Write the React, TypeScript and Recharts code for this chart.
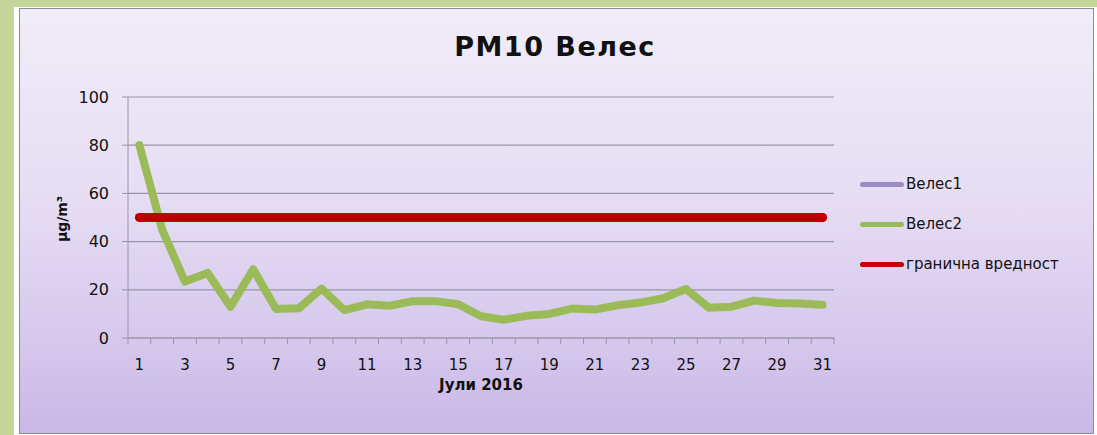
import {
  CartesianGrid,
  Line,
  LineChart,
  XAxis,
  YAxis,
} from "recharts";

const days = [
  1, 2, 3, 4, 5, 6, 7, 8, 9, 10, 11, 12, 13, 14, 15, 16, 17, 18, 19, 20, 21,
  22, 23, 24, 25, 26, 27, 28, 29, 30, 31,
];

/** Велес2 daily PM10, µg/m³. */
const veles2 = [
  80, 45, 23.4, 27, 13, 28.5, 12, 12.3, 20.5, 11.6, 14, 13.4, 15.3, 15.3, 14,
  9, 7.6, 9.2, 10, 12.2, 11.8, 13.6, 14.7, 16.5, 20.3, 12.6, 13, 15.5, 14.5,
  14.3, 13.8,
];

/** Велес1 has no measurements this month. */
const veles1: (number | null)[] = [];

const limit = [
  50, 50, 50, 50, 50, 50, 50, 50, 50, 50, 50, 50, 50, 50, 50, 50, 50, 50, 50,
  50, 50, 50, 50, 50, 50, 50, 50, 50, 50, 50, 50,
];

const yTicks = [0, 20, 40, 60, 80, 100];

const series = [
  { key: "veles1", name: "Велес1", color: "#9b8cc3", width: 6 },
  { key: "veles2", name: "Велес2", color: "#9bbb59", width: 8 },
  { key: "limit", name: "гранична вредност", color: "#c00000", width: 9 },
];

const FONT = "'DejaVu Sans', sans-serif";
const AXIS = "#9a94a8";
const PLOT_W = 706;
const BAND = PLOT_W / days.length;

const chartData = days.map((day, i) => ({
  day,
  veles1: veles1[i] ?? null,
  veles2: veles2[i],
  limit: limit[i],
}));

function DayTick(props: any) {
  const { x, y, payload, index } = props;
  const left = x - BAND / 2;
  return (
    <g>
      <line x1={left} x2={left} y1={y} y2={y + 6} stroke={AXIS} />
      {index === days.length - 1 && (
        <line x1={x + BAND / 2} x2={x + BAND / 2} y1={y} y2={y + 6} stroke={AXIS} />
      )}
      {payload.value % 2 === 1 && (
        <text
          x={x}
          y={y + 32}
          textAnchor="middle"
          fontFamily={FONT}
          fontSize={15}
          fill="#111"
        >
          {payload.value}
        </text>
      )}
    </g>
  );
}

export default function App() {
  return (
    <div
      style={{
        position: "absolute",
        left: 0,
        top: 0,
        width: 1097,
        height: 435,
        background: "#c4d79b",
        overflow: "hidden",
      }}
    >
      <div
        style={{
          position: "absolute",
          left: 14,
          top: 7,
          width: 1083,
          height: 428,
          background: "#ffffff",
        }}
      />
      <div
        style={{
          position: "absolute",
          left: 19,
          top: 8,
          width: 1075,
          height: 426,
          boxSizing: "border-box",
          border: "1px solid #8e8a9c",
          background:
            "linear-gradient(180deg, #f1ecf9 0%, #e6ddf3 45%, #d7caee 75%, #c9b8e6 100%)",
        }}
      />
      <div
        style={{
          position: "absolute",
          left: 14,
          top: 31,
          width: 1082,
          textAlign: "center",
          fontFamily: FONT,
          fontWeight: "bold",
          fontSize: 27,
          letterSpacing: 1.5,
          color: "#111",
        }}
      >
        PM10 Велес
      </div>
      <div style={{ position: "absolute", left: 14, top: 8 }}>
        <LineChart
          width={1079}
          height={421}
          data={chartData}
          margin={{ top: 89, right: 259, bottom: 31, left: 0 }}
        >
          <CartesianGrid vertical={false} stroke={AXIS} strokeWidth={1.2} />
          <XAxis
            dataKey="day"
            scale="band"
            height={60}
            interval={0}
            tickSize={0}
            tickMargin={0}
            tick={<DayTick />}
            stroke={AXIS}
            label={{
              content: () => (
                <text
                  x={467}
                  y={382}
                  textAnchor="middle"
                  fontFamily={FONT}
                  fontWeight="bold"
                  fontSize={15}
                  fill="#111"
                >
                  Јули 2016
                </text>
              ),
            }}
          />
          <YAxis
            width={114}
            domain={[0, 100]}
            ticks={yTicks}
            tickSize={6}
            tickMargin={13}
            stroke={AXIS}
            tick={{ fill: "#111", fontSize: 16, fontFamily: FONT }}
            label={{
              content: () => (
                <text
                  x={0}
                  y={0}
                  transform="translate(53 211) rotate(-90)"
                  textAnchor="middle"
                  fontFamily={FONT}
                  fontWeight="bold"
                  fontSize={14}
                  fill="#111"
                >
                  μg/m³
                </text>
              ),
            }}
          />
          {series.map((s) => (
            <Line
              key={s.key}
              dataKey={s.key}
              name={s.name}
              stroke={s.color}
              strokeWidth={s.width}
              strokeLinecap="round"
              strokeLinejoin="round"
              dot={false}
              activeDot={false}
              type="linear"
              isAnimationActive={false}
            />
          ))}
        </LineChart>
      </div>
      <div
        style={{
          position: "absolute",
          left: 860,
          top: 164,
          fontFamily: FONT,
          fontSize: 15,
          color: "#111",
        }}
      >
        {series.map((s) => (
          <div
            key={s.key}
            style={{ display: "flex", alignItems: "center", height: 40 }}
          >
            <span
              style={{
                display: "inline-block",
                width: 44,
                height: 5,
                borderRadius: 3,
                background: s.color,
                marginRight: 2,
              }}
            />
            {s.name}
          </div>
        ))}
      </div>
    </div>
  );
}
